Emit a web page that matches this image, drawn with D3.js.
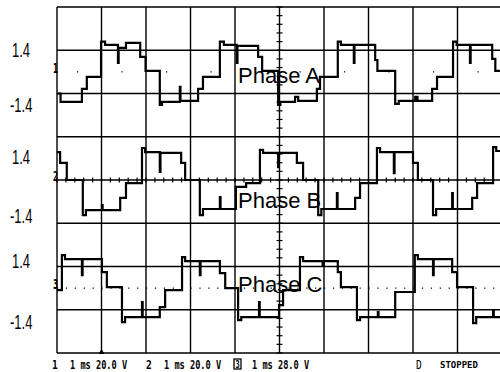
<!DOCTYPE html>
<html>
<head>
<meta charset="utf-8">
<script src="https://cdn.jsdelivr.net/npm/d3@7"></script>
<style>
body { margin: 0; background: #fff; }
svg { display: block; background: #fff; }
</style>
</head>
<body>
<div id="scope"></div>
<script>
// scope capture: 1 ms/div, 20 V/div. points are [time ms, volts], step after each point
var phaseA = [[0, -10.0], [0.08, -13.9], [0.56, -7.9], [0.67, -2.3], [0.99, 14.0], [1.08, 12.5],
    [1.37, 4.2], [1.385, 11.1], [1.55, 13.4], [1.87, 6.9], [1.99, 0.5], [2.31, -15.3], [2.36, -13.9],
    [2.76, -6.9], [2.775, -13.4], [3.17, -7.9], [3.28, -2.3], [3.66, 14.0], [3.75, 12.5],
    [4.04, 4.2], [4.055, 12.0], [4.52, 6.9], [4.61, 0.5], [4.97, -15.3], [5.02, -13.9],
    [5.35, -11.6], [5.42, -13.4], [5.84, -7.9], [5.91, -2.3], [6.31, 14.0], [6.38, 12.5],
    [6.67, 4.2], [6.685, 12.5], [7.15, 5.5], [7.20, 0.5], [7.60, -14.8], [7.68, -13.4],
    [8.05, -11.6], [8.10, -13.4], [8.43, -7.9], [8.54, -2.3], [8.90, 14.0], [8.98, 12.5],
    [9.28, 4.2], [9.295, 12.5], [9.78, 6.0], [9.85, 0.5], [10.0, 0.5]];

var phaseB = [[0, 12.9], [0.07, 7.9], [0.22, 0], [0.58, -16.2], [0.65, -13.9], [1.01, -11.6],
    [1.025, -13.9], [1.42, -8.3], [1.55, -1.4], [1.91, 14.8], [1.98, 12.9], [2.31, 3.7], [2.325, 12.5],
    [2.79, 7.9], [2.88, 0], [3.21, -16.2], [3.28, -13.4], [3.66, -7.9], [3.675, -13.4], [4.02, -3.2],
    [4.25, -1.4], [4.56, 13.9], [4.63, 12.5], [4.97, 6.0], [4.985, 12.5], [5.39, 7.9], [5.53, 0],
    [5.87, -16.2], [5.94, -13.4], [6.29, -6.0], [6.305, -13.4], [6.70, -8.3], [6.81, -1.4],
    [7.19, 14.8], [7.26, 12.9], [7.57, 3.2], [7.585, 12.9], [8.00, 7.9], [8.11, 0], [8.45, -16.2],
    [8.52, -13.4], [8.88, -6.0], [8.895, -13.4], [9.33, -8.3], [9.44, -1.4], [9.80, 15.2],
    [9.87, 13.4], [10.0, 13.4]];

var phaseC = [[0, -0.9], [0.11, 15.3], [0.18, 13.4], [0.56, 6.0], [0.575, 13.4], [1.01, 7.4],
    [1.12, 0.5], [1.46, -15.7], [1.53, -13.4], [1.91, -6.5], [1.925, -13.4], [2.31, -8.8],
    [2.43, -0.9], [2.81, 14.3], [2.88, 12.5], [3.21, 6.0], [3.225, 12.5], [3.66, 6.9], [3.78, 0],
    [4.07, -14.8], [4.14, -13.4], [4.54, -6.5], [4.555, -13.4], [4.99, -7.9], [5.08, -0.9],
    [5.46, 14.3], [5.53, 12.5], [5.97, 10.6], [5.99, 12.5], [6.31, 7.4], [6.38, 0.5],
    [6.74, -14.8], [6.81, -13.4], [7.21, -11.1], [7.225, -13.4], [7.60, -1.8], [8.04, 15.3],
    [8.11, 13.4], [8.45, 6.0], [8.465, 13.4], [8.88, 7.4], [8.99, 0.5], [9.35, -16.2],
    [9.42, -13.4], [9.80, -10.2], [9.815, -13.4], [10.0, -13.4]];

var phaseNames = ["Phase A", "Phase B", "Phase C"];
var channelPos = [2.5, 0, -2.5];          // channel position, divisions
var levelLabels = ["1.4", "-1.4"];
var channelSettings = ["1 ms 20.0 V", "1 ms 20.0 V", "1 ms 28.0 V"];
var voltsPerDiv = 20;

function drawScope(){
    var width = 500, height = 372;

    var svg = d3.select("#scope").append("svg")
        .attr("width", width)
        .attr("height", height);

    // 10 x 8 divisions, right edge sits just past the window
    var x = d3.scaleLinear().domain([0, 10]).range([57, 502]);
    var y = d3.scaleLinear().domain([-4, 4]).range([353, 7]);

    var grid = svg.append("g");
    grid.selectAll(".vline")
        .data(d3.range(0, 11))
        .enter().append("line")
        .attr("x1", function(d) { return x(d); })
        .attr("x2", function(d) { return x(d); })
        .attr("y1", y(4))
        .attr("y2", y(-4))
        .attr("stroke", "#000")
        .attr("stroke-width", 1.4);

    grid.selectAll(".hline")
        .data(d3.range(-4, 5))
        .enter().append("line")
        .attr("x1", x(0))
        .attr("x2", x(10))
        .attr("y1", function(d) { return y(d); })
        .attr("y2", function(d) { return y(d); })
        .attr("stroke", "#000")
        .attr("stroke-width", 1.5);

    // minor ticks on the centre lines
    grid.selectAll(".xminor")
        .data(d3.range(0, 10.01, 0.2))
        .enter().append("line")
        .attr("x1", function(d) { return x(d); })
        .attr("x2", function(d) { return x(d); })
        .attr("y1", y(0) - 2.5)
        .attr("y2", y(0) + 2.5)
        .attr("stroke", "#000")
        .attr("stroke-width", 1.2);

    grid.selectAll(".yminor")
        .data(d3.range(-4, 4.01, 0.2))
        .enter().append("line")
        .attr("x1", x(5) - 3)
        .attr("x2", x(5) + 3)
        .attr("y1", function(d) { return y(d); })
        .attr("y2", function(d) { return y(d); })
        .attr("stroke", "#000")
        .attr("stroke-width", 1.2);

    // dotted ground lines for channels 1 and 3
    grid.append("line")
        .attr("x1", x(0)).attr("x2", x(10))
        .attr("y1", y(channelPos[0])).attr("y2", y(channelPos[0]))
        .attr("stroke", "#000").attr("stroke-width", 1.2)
        .attr("stroke-dasharray", "1.2,43.3")
        .attr("stroke-dashoffset", -20);
    grid.append("line")
        .attr("x1", x(0)).attr("x2", x(10))
        .attr("y1", y(channelPos[2])).attr("y2", y(channelPos[2]))
        .attr("stroke", "#000").attr("stroke-width", 1.2)
        .attr("stroke-dasharray", "1.2,7.7");

    // traces
    var traces = [phaseA, phaseB, phaseC];
    traces.forEach(function(points, i) {
        var line = d3.line()
            .x(function(d) { return x(d[0]); })
            .y(function(d) { return y(d[1] / voltsPerDiv + channelPos[i]); })
            .curve(d3.curveStepAfter);

        svg.append("path")
            .datum(points)
            .attr("fill", "none")
            .attr("stroke", "#000")
            .attr("stroke-width", 2.2)
            .attr("d", line);

        // ground marker at left edge
        svg.append("text")
            .attr("transform", "translate(58," + (y(channelPos[i]) + 1) + ") scale(0.7,1.1)")
            .attr("text-anchor", "end")
            .attr("font-family", "DejaVu Sans Mono")
            .attr("font-weight", "bold")
            .attr("font-size", 12)
            .text(i + 1);
    });

    // phase names
    var nameY = [83, 208, 292];
    svg.selectAll(".phase")
        .data(phaseNames)
        .enter().append("text")
        .attr("x", 238)
        .attr("y", function(d, i) { return nameY[i]; })
        .attr("font-family", "Liberation Sans, Arial, sans-serif")
        .attr("font-size", 22)
        .text(function(d) { return d; });

    // 1.4 / -1.4 labels beside each channel (offsets in divisions)
    var labelShift = [[0.51, -0.76], [0.54, -0.81], [0.65, -0.78]];
    channelPos.forEach(function(pos, i) {
        levelLabels.forEach(function(lab, j) {
            svg.append("text")
                .attr("transform", "translate(" + (j == 0 ? 12 : 10) + "," +
                      (y(pos + labelShift[i][j]) + 7.5) + ") scale(0.65,1.05)")
                .attr("font-family", "Liberation Sans, Arial, sans-serif")
                .attr("font-size", 20)
                .text(lab);
        });
    });

    // trigger marker
    svg.append("path")
        .attr("d", "M" + x(1) + "," + (y(-4) - 4) + "l-3,5h6z")
        .attr("fill", "#000");

    // status line
    var infoX = [52, 146, 234];
    var status = svg.append("g")
        .attr("font-family", "DejaVu Sans Mono, monospace")
        .attr("fill", "#000");
    channelSettings.forEach(function(s, i) {
        if (i == 2) {
            status.append("rect")
                .attr("x", infoX[i]).attr("y", 359)
                .attr("width", 7).attr("height", 10)
                .attr("fill", "none").attr("stroke", "#000").attr("stroke-width", 1.3);
            status.append("text")
                .attr("transform", "translate(" + (infoX[i] + 1.5) + ",368) scale(0.7,1)")
                .attr("font-size", 10).attr("font-weight", "bold")
                .text(i + 1);
        } else {
            status.append("text")
                .attr("transform", "translate(" + infoX[i] + ",369) scale(0.8,1.05)")
                .attr("font-size", 12).attr("font-weight", "bold")
                .text(i + 1);
        }
        status.append("text")
            .attr("transform", "translate(" + (infoX[i] + 18) + ",369) scale(0.72,1)")
            .attr("font-size", 12).attr("font-weight", "bold")
            .text(s);
    });
    status.append("text")
        .attr("transform", "translate(416,369) scale(0.8,1)")
        .attr("font-size", 12)
        .text("D");
    status.append("text")
        .attr("x", 440).attr("y", 368)
        .attr("font-size", 9).attr("font-weight", "bold")
        .text("STOPPED");
}

drawScope();
</script>
</body>
</html>
